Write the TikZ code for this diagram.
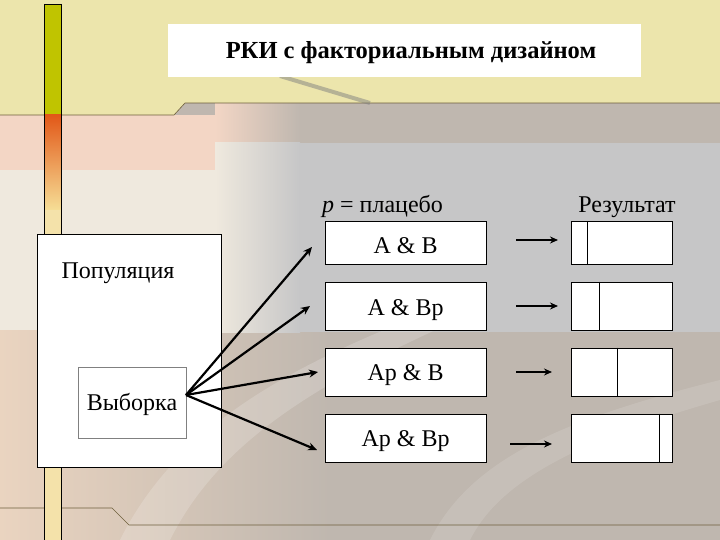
\documentclass[tikz,border=0pt]{standalone}
\usepackage{fontspec}
\setmainfont{Liberation Serif}
\usetikzlibrary{arrows.meta}
\definecolor{topbg}{RGB}{236,229,172}
\definecolor{warmgray}{RGB}{191,183,175}
\definecolor{lightgray}{RGB}{198,198,199}
\definecolor{peach}{RGB}{243,214,197}
\definecolor{cream}{RGB}{239,233,222}
\definecolor{lowbeige}{RGB}{234,212,192}
\definecolor{barcol}{RGB}{192,196,0}
\definecolor{barorange}{RGB}{226,88,24}
\definecolor{baryellow}{RGB}{246,222,150}
\definecolor{barpale}{RGB}{244,226,170}
\definecolor{samplegray}{RGB}{128,128,128}
\definecolor{edgeline}{RGB}{110,95,60}
\tikzset{
  bodytext/.style={font=\fontsize{24}{28}\selectfont,inner sep=0pt},
  stagebox/.style={draw=black,fill=white,line width=1pt,inner sep=0pt},
  fanarrow/.style={-{Stealth[length=9pt,width=8pt]},line width=2.2pt,black},
  resarrow/.style={-{Stealth[length=8pt,width=7pt]},line width=2.2pt,black},
}
\begin{document}
\begin{tikzpicture}[x=1pt,y=-1pt]
\useasboundingbox (0,0) rectangle (720,540);
% ---- background ----
\fill[warmgray] (0,0) rectangle (720,540);
\shade[left color=lowbeige,right color=warmgray] (0,330) rectangle (330,540);
\fill[peach] (0,115) rectangle (215,170);
\shade[left color=peach,right color=warmgray] (215,103) rectangle (300,143);
\fill[cream] (0,170) rectangle (215,330);
\shade[left color=cream,right color=lightgray] (215,143) rectangle (300,332);
\fill[lightgray] (300,143) rectangle (720,332);
\fill[white,opacity=0.18] (120,540) .. controls (180,420) and (300,360) .. (460,300) -- (480,310) .. controls (320,380) and (220,440) .. (170,540) -- cycle;
\fill[white,opacity=0.12] (430,540) .. controls (470,460) and (560,420) .. (720,380) -- (720,400) .. controls (580,440) and (500,480) .. (470,540) -- cycle;
\fill[topbg] (0,0) -- (720,0) -- (720,103) -- (185,103) -- (174,115) -- (0,115) -- cycle;
\draw[edgeline,line width=0.6pt] (0,115) -- (174,115) -- (185,103) -- (720,103);
\draw[gray,opacity=0.5,line width=4pt] (280,76) -- (370,103);
\draw[edgeline,line width=0.6pt] (0,508) -- (112,508) -- (129,525) -- (720,525);
% vertical bar
\fill[barcol] (44,4) rectangle (61,115);
\shade[top color=barorange,bottom color=baryellow] (44,115) rectangle (61,210);
\fill[barpale] (44,210) rectangle (61,540);
\draw[black,line width=0.8pt] (44,4) -- (44,540);
\draw[black,line width=0.8pt] (61,4) -- (61,540);
\draw[black,line width=0.8pt] (44,4) -- (61,4);
% ---- title ----
\node[fill=white,minimum width=473pt,minimum height=53pt,inner sep=0pt] (title) at (404.5,50.5) {};
\node[font=\fontsize{24.5}{28}\selectfont\bfseries,anchor=base,inner sep=0pt] (titletext) at (411,59) {РКИ с факториальным дизайном};
% ---- population ----
\node[stagebox,minimum width=184pt,minimum height=233pt] (pop) at (129,350.5) {};
\node[bodytext,anchor=base] (poptext) at (118,278) {Популяция};
\node[draw=samplegray,fill=white,line width=0.8pt,minimum width=108pt,minimum height=71pt,inner sep=0pt] (sample) at (132,402.5) {};
\node[bodytext,anchor=base] (sampletext) at (132,410) {Выборка};
\coordinate (src) at (186,395);
% ---- headers ----
\node[bodytext,anchor=base west] (placebo) at (322,213) {\textit{p} = плацебо};
\node[bodytext,anchor=base] (result) at (627,213) {Результат};
% ---- treatment boxes ----
\node[stagebox,minimum width=161pt,minimum height=42pt] (t1) at (405.5,243) {};
\node[stagebox,minimum width=161pt,minimum height=48pt] (t2) at (405.5,306) {};
\node[stagebox,minimum width=161pt,minimum height=48pt] (t3) at (405.5,372) {};
\node[stagebox,minimum width=161pt,minimum height=48pt] (t4) at (405.5,438) {};
\node[bodytext,anchor=base] (t1text) at (405.5,253) {A \& B};
\node[bodytext,anchor=base] (t2text) at (405.5,315) {A \& Bp};
\node[bodytext,anchor=base] (t3text) at (405.5,380.5) {Ap \& B};
\node[bodytext,anchor=base] (t4text) at (405.5,446.5) {Ap \& Bp};
% ---- result boxes ----
\node[stagebox,minimum width=101pt,minimum height=42pt] (r1) at (621.5,243) {};
\node[stagebox,minimum width=101pt,minimum height=48pt] (r2) at (621.5,306) {};
\node[stagebox,minimum width=101pt,minimum height=48pt] (r3) at (621.5,372) {};
\node[stagebox,minimum width=101pt,minimum height=48pt] (r4) at (621.5,438) {};
\draw[line width=1pt] (r1.north west) ++(17,0) -- ++(0,42);
\draw[line width=1pt] (r2.north west) ++(29,0) -- ++(0,48);
\draw[line width=1pt] (r3.north west) ++(47,0) -- ++(0,48);
\draw[line width=1pt] (r4.north west) ++(89,0) -- ++(0,48);
% ---- fan arrows ----
\coordinate (e1) at (312,247);
\coordinate (e2) at (310,306);
\coordinate (e3) at (318,372);
\coordinate (e4) at (317,450);
\draw[fanarrow] (src) -- (e1);
\draw[fanarrow] (src) -- (e2);
\draw[fanarrow] (src) -- (e3);
\draw[fanarrow] (src) -- (e4);
% ---- result arrows ----
\coordinate (a1s) at (516,240); \coordinate (a1e) at (558,240);
\coordinate (a2s) at (516,306); \coordinate (a2e) at (558,306);
\coordinate (a3s) at (516,372); \coordinate (a3e) at (552,372);
\coordinate (a4s) at (510,444); \coordinate (a4e) at (552,444);
\draw[resarrow] (a1s) -- (a1e);
\draw[resarrow] (a2s) -- (a2e);
\draw[resarrow] (a3s) -- (a3e);
\draw[resarrow] (a4s) -- (a4e);
\end{tikzpicture}
\end{document}
